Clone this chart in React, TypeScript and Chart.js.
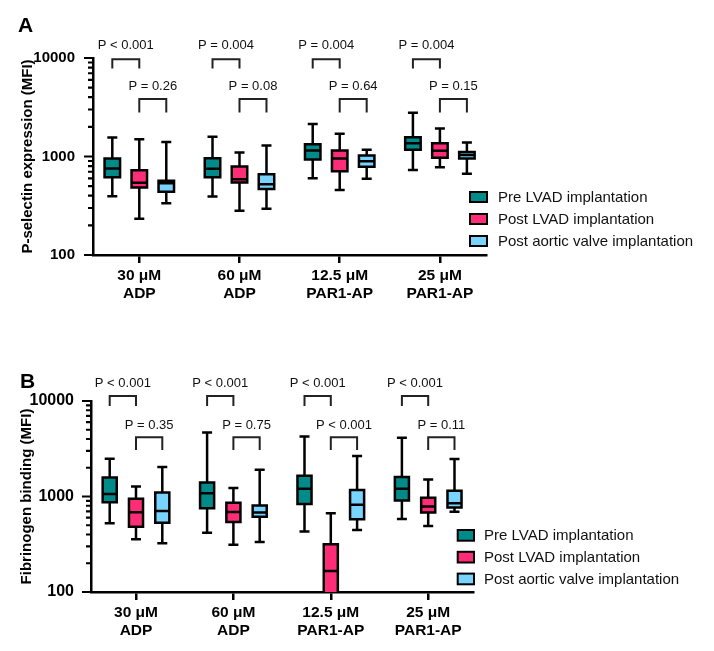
import React, { useEffect, useRef } from "react";
import { Chart, registerables } from "chart.js";

Chart.register(...registerables);

const FONT = "Arial, 'Liberation Sans', Helvetica, sans-serif";

// ---------- shared ----------
const categories = [
  ["30 μM", "ADP"],
  ["60 μM", "ADP"],
  ["12.5 μM", "PAR1-AP"],
  ["25 μM", "PAR1-AP"],
];
const seriesNames = ["Pre LVAD implantation", "Post LVAD implantation", "Post aortic valve implantation"];
const seriesColors = ["#008B8B", "#FF2D78", "#78D4FF"];
const yMajorTicks = [100, 1000, 10000];
const yMinorTicks = [200, 300, 400, 500, 600, 700, 800, 900, 2000, 3000, 4000, 5000, 6000, 7000, 8000, 9000];

// ---------- Panel A: P-selectin expression ----------
const aPreMin = [395, 392, 602, 729];
const aPreQ1 = [615, 616, 932, 1168];
const aPreMed = [755, 750, 1151, 1364];
const aPreQ3 = [955, 962, 1334, 1570];
const aPreMax = [1555, 1585, 2133, 2785];

const aPostLvadMin = [233, 282, 458, 780];
const aPostLvadQ1 = [485, 544, 710, 970];
const aPostLvadMed = [540, 588, 955, 1145];
const aPostLvadQ3 = [725, 791, 1151, 1360];
const aPostLvadMax = [1498, 1099, 1701, 1920];

const aPostAvMin = [336, 294, 593, 668];
const aPostAvQ1 = [438, 469, 785, 956];
const aPostAvMed = [535, 523, 897, 1033];
const aPostAvQ3 = [567, 661, 1023, 1112];
const aPostAvMax = [1406, 1294, 1169, 1390];

const aPPreVsPost = ["P < 0.001", "P = 0.004", "P = 0.004", "P = 0.004"];
const aPPostVsAv = ["P = 0.26", "P = 0.08", "P = 0.64", "P = 0.15"];

// ---------- Panel B: Fibrinogen binding ----------
const bPreMin = [524, 418, 431, 582];
const bPreQ1 = [871, 754, 837, 908];
const bPreMed = [1059, 1084, 1205, 1205];
const bPreQ3 = [1585, 1403, 1651, 1600];
const bPreMax = [2490, 4677, 4246, 4111];

const bPostLvadMin = [356, 313, 40, 491];
const bPostLvadQ1 = [483, 541, 60, 679];
const bPostLvadMed = [684, 690, 166, 785];
const bPostLvadQ3 = [945, 858, 316, 968];
const bPostLvadMax = [1274, 1225, 667, 1510];

const bPostAvMin = [323, 333, 446, 694];
const bPostAvQ1 = [532, 615, 577, 766];
const bPostAvMed = [706, 679, 818, 851];
const bPostAvQ3 = [1102, 804, 1168, 1148];
const bPostAvMax = [2040, 1909, 2660, 2472];

const bPPreVsPost = ["P < 0.001", "P < 0.001", "P < 0.001", "P < 0.001"];
const bPPostVsAv = ["P = 0.35", "P = 0.75", "P < 0.001", "P = 0.11"];

// annotation heights in data units: [text1, bracketTop1, bracketLeg1, text2, bracketTop2, bracketLeg2]
const aBracketLevels = [13340, 9700, 7820, 5200, 3840, 2790];
const bBracketLevels = [15300, 11280, 8870, 5610, 4170, 3070];

const panelA = {
  letter: "A",
  yTitle: "P-selectin expression (MFI)",
  series: [
    { min: aPreMin, q1: aPreQ1, med: aPreMed, q3: aPreQ3, max: aPreMax },
    { min: aPostLvadMin, q1: aPostLvadQ1, med: aPostLvadMed, q3: aPostLvadQ3, max: aPostLvadMax },
    { min: aPostAvMin, q1: aPostAvQ1, med: aPostAvMed, q3: aPostAvQ3, max: aPostAvMax },
  ],
  p1: aPPreVsPost,
  p2: aPPostVsAv,
  levels: aBracketLevels,
  lay: {
    height: 330, top: 58, right: 228, yWidth: 93, xHeight: 75,
    yTickFont: 15, yTickPad: 10, titlePad: 19,
    catPct: 0.808, barPct: 0.574, capW: 10,
    letterX: 18, letterY: 31.5,
    legendX: 470, legendY: 192, legendRow: 22, legendBoxW: 17, legendBoxH: 10, legendTextX: 498,
  },
};

const panelB = {
  letter: "B",
  yTitle: "Fibrinogen binding (MFI)",
  series: [
    { min: bPreMin, q1: bPreQ1, med: bPreMed, q3: bPreQ3, max: bPreMax },
    { min: bPostLvadMin, q1: bPostLvadQ1, med: bPostLvadMed, q3: bPostLvadQ3, max: bPostLvadMax },
    { min: bPostAvMin, q1: bPostAvQ1, med: bPostAvMed, q3: bPostAvQ3, max: bPostAvMax },
  ],
  p1: bPPreVsPost,
  p2: bPPostVsAv,
  levels: bBracketLevels,
  lay: {
    height: 321, top: 71, right: 241, yWidth: 91, xHeight: 59,
    yTickFont: 16, yTickPad: 9, titlePad: 17.7,
    catPct: 0.81, barPct: 0.535, capW: 10,
    letterX: 20, letterY: 58,
    legendX: 457.7, legendY: 200, legendRow: 21.8, legendBoxW: 16.3, legendBoxH: 10.7, legendTextX: 484,
  },
};

function makeConfig(p: any) {
  const L = p.lay;
  const extras = {
    id: "boxExtras",
    afterDatasetsDraw(chart: any) {
      const { ctx, chartArea } = chart;
      const y = chart.scales.y;
      ctx.save();
      ctx.beginPath();
      ctx.rect(chartArea.left, chartArea.top, chartArea.right - chartArea.left, chartArea.bottom - chartArea.top);
      ctx.clip();
      ctx.strokeStyle = "#000";
      ctx.lineWidth = 2.5;
      chart.data.datasets.forEach((ds: any, di: number) => {
        const meta = chart.getDatasetMeta(di);
        meta.data.forEach((bar: any, i: number) => {
          const { x, width } = bar.getProps(["x", "width"], true);
          const pMin = y.getPixelForValue(ds.stats.min[i]);
          const pQ1 = y.getPixelForValue(ds.stats.q1[i]);
          const pMed = y.getPixelForValue(ds.stats.med[i]);
          const pQ3 = y.getPixelForValue(ds.stats.q3[i]);
          const pMax = y.getPixelForValue(ds.stats.max[i]);
          ctx.beginPath();
          // box outline (stroke centred on the quartile edges)
          ctx.rect(x - width / 2, pQ3, width, pQ1 - pQ3);
          // upper whisker
          ctx.moveTo(x, pQ3);
          ctx.lineTo(x, pMax);
          ctx.moveTo(x - L.capW / 2, pMax);
          ctx.lineTo(x + L.capW / 2, pMax);
          // lower whisker
          ctx.moveTo(x, pQ1);
          ctx.lineTo(x, pMin);
          ctx.moveTo(x - L.capW / 2, pMin);
          ctx.lineTo(x + L.capW / 2, pMin);
          // median
          ctx.moveTo(x - width / 2, pMed);
          ctx.lineTo(x + width / 2, pMed);
          ctx.stroke();
        });
      });
      ctx.restore();
    },
    afterDraw(chart: any) {
      const { ctx, chartArea } = chart;
      const y = chart.scales.y;
      ctx.save();
      // y tick marks (major long, minor short)
      ctx.strokeStyle = "#000";
      ctx.lineWidth = 2.2;
      ctx.beginPath();
      y.ticks.forEach((t: any) => {
        const py = y.getPixelForValue(t.value);
        const len = yMajorTicks.includes(t.value) ? 9 : 5;
        ctx.moveTo(chartArea.left - len, py);
        ctx.lineTo(chartArea.left, py);
      });
      ctx.stroke();

      // brackets and p-values
      const m0 = chart.getDatasetMeta(0).data;
      const m1 = chart.getDatasetMeta(1).data;
      const m2 = chart.getDatasetMeta(2).data;
      const lv = p.levels.map((v: number) => y.getPixelForValue(v));
      ctx.strokeStyle = "#222";
      ctx.lineWidth = 2;
      ctx.fillStyle = "#111";
      ctx.font = `13px ${FONT}`;
      ctx.textAlign = "center";
      ctx.textBaseline = "middle";
      categories.forEach((_, i) => {
        const xa = m0[i].x, xb = m1[i].x, xc = m2[i].x;
        ctx.beginPath();
        ctx.moveTo(xa, lv[2]);
        ctx.lineTo(xa, lv[1]);
        ctx.lineTo(xb, lv[1]);
        ctx.lineTo(xb, lv[2]);
        ctx.moveTo(xb, lv[5]);
        ctx.lineTo(xb, lv[4]);
        ctx.lineTo(xc, lv[4]);
        ctx.lineTo(xc, lv[5]);
        ctx.stroke();
        ctx.fillText(p.p1[i], (xa + xb) / 2, lv[0]);
        ctx.fillText(p.p2[i], (xb + xc) / 2, lv[3]);
      });

      // panel letter
      ctx.fillStyle = "#000";
      ctx.textAlign = "left";
      ctx.textBaseline = "alphabetic";
      ctx.font = `bold 21px ${FONT}`;
      ctx.fillText(p.letter, L.letterX, L.letterY);

      // legend
      ctx.font = `15px ${FONT}`;
      ctx.textBaseline = "middle";
      chart.data.datasets.forEach((ds: any, k: number) => {
        const by = L.legendY + k * L.legendRow;
        ctx.fillStyle = ds.backgroundColor;
        ctx.fillRect(L.legendX, by, L.legendBoxW, L.legendBoxH);
        ctx.strokeStyle = "#000";
        ctx.lineWidth = 2;
        ctx.strokeRect(L.legendX, by, L.legendBoxW, L.legendBoxH);
        ctx.fillStyle = "#111";
        ctx.fillText(ds.label, L.legendTextX, by + L.legendBoxH / 2 + 0.5);
      });
      ctx.restore();
    },
  };

  return {
    type: "bar",
    data: {
      datasets: p.series.map((s: any, k: number) => ({
        label: seriesNames[k],
        data: categories.map((_, i) => ({ x: i, y: [s.q1[i], s.q3[i]] })),
        stats: s,
        backgroundColor: seriesColors[k],
        borderWidth: 0,
        categoryPercentage: L.catPct,
        barPercentage: L.barPct,
        clip: 0,
      })),
    },
    options: {
      responsive: false,
      animation: false,
      layout: { padding: { left: 0, top: L.top, right: L.right, bottom: 0 } },
      plugins: { legend: { display: false }, tooltip: { enabled: false } },
      scales: {
        x: {
          type: "linear",
          min: -0.462,
          max: 3.46,
          offset: false,
          afterBuildTicks: (s: any) => {
            s.ticks = categories.map((_, i) => ({ value: i }));
          },
          afterFit: (s: any) => {
            s.height = L.xHeight;
          },
          grid: {
            display: true,
            drawOnChartArea: false,
            drawTicks: true,
            tickLength: 8,
            tickWidth: 2.5,
            tickColor: "#000",
            color: "#000",
            lineWidth: 2.5,
            offset: false,
          },
          border: { display: true, color: "#000", width: 2.5 },
          ticks: {
            autoSkip: false,
            maxRotation: 0,
            minRotation: 0,
            padding: 3,
            color: "#000",
            font: { family: FONT, size: 15.5, weight: "bold" },
            callback: (v: any) => categories[v] ?? "",
          },
        },
        y: {
          type: "logarithmic",
          min: 100,
          max: 10000,
          afterBuildTicks: (s: any) => {
            s.ticks = [...yMajorTicks, ...yMinorTicks].sort((a, b) => a - b).map((v) => ({ value: v }));
          },
          afterFit: (s: any) => {
            s.width = L.yWidth;
          },
          grid: { display: false },
          border: { display: true, color: "#000", width: 2.5 },
          ticks: {
            autoSkip: false,
            padding: L.yTickPad,
            color: "#000",
            font: { family: FONT, size: L.yTickFont, weight: "bold" },
            callback: (v: any) => (yMajorTicks.includes(v) ? String(v) : ""),
          },
          title: {
            display: true,
            text: p.yTitle,
            color: "#000",
            font: { family: FONT, size: 15, weight: "bold" },
            padding: { top: L.titlePad, bottom: 0 },
          },
        },
      },
    },
    plugins: [extras],
  };
}

function BoxPanel({ panel }: { panel: any }) {
  const ref = useRef<HTMLCanvasElement>(null);
  useEffect(() => {
    const chart = new Chart(ref.current as HTMLCanvasElement, makeConfig(panel) as any);
    return () => chart.destroy();
  }, [panel]);
  return (
    <canvas
      ref={ref}
      width={714}
      height={panel.lay.height}
      style={{ display: "block", width: 714, height: panel.lay.height }}
    />
  );
}

export default function App() {
  return (
    <div style={{ position: "absolute", left: 0, top: 0, width: 714, height: 651, background: "#fff" }}>
      <BoxPanel panel={panelA} />
      <BoxPanel panel={panelB} />
    </div>
  );
}
